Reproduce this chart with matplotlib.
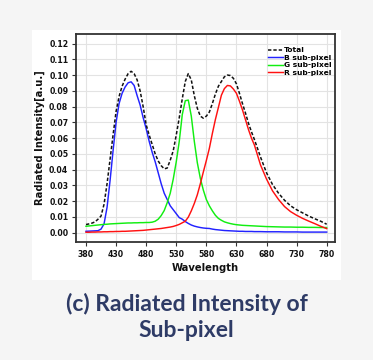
import matplotlib
matplotlib.use("Agg")
import matplotlib.pyplot as plt
from matplotlib.patches import Rectangle

# ---------------- data ----------------
wavelength = [380, 385, 390, 395, 400, 405, 410, 415, 420, 425, 430, 435, 440, 445, 450,
              455, 460, 465, 470, 475, 480, 485, 490, 495, 500, 505, 510, 515, 520, 525,
              530, 535, 540, 545, 550, 555, 560, 565, 570, 575, 580, 585, 590, 595, 600,
              605, 610, 615, 620, 625, 630, 635, 640, 645, 650, 655, 660, 670, 680, 690,
              700, 710, 720, 730, 740, 750, 760, 770, 780]

total = [0.0051, 0.0055, 0.0060, 0.0068, 0.0085, 0.0105, 0.0180, 0.0310, 0.0465, 0.0620,
         0.0770, 0.0865, 0.0930, 0.0975, 0.1010, 0.1025, 0.1010, 0.0970, 0.0900, 0.0800,
         0.0685, 0.0620, 0.0560, 0.0500, 0.0455, 0.0425, 0.0405, 0.0410, 0.0460, 0.0520,
         0.0620, 0.0730, 0.0850, 0.0960, 0.1010, 0.0970, 0.0870, 0.0790, 0.0740, 0.0727,
         0.0740, 0.0766, 0.0820, 0.0880, 0.0930, 0.0960, 0.0990, 0.1001, 0.0998, 0.0980,
         0.0945, 0.0885, 0.0820, 0.0760, 0.0695, 0.0640, 0.0590, 0.0480, 0.0380, 0.0305,
         0.0250, 0.0205, 0.0170, 0.0145, 0.0125, 0.0105, 0.0088, 0.0072, 0.0053]

b_subpixel = [0.0008, 0.0009, 0.0010, 0.0011, 0.0012, 0.0022, 0.0055, 0.0160, 0.0330, 0.0520,
              0.0700, 0.0820, 0.0885, 0.0925, 0.0952, 0.0958, 0.0935, 0.0870, 0.0810, 0.0730,
              0.0660, 0.0580, 0.0510, 0.0450, 0.0380, 0.0310, 0.0250, 0.0210, 0.0170, 0.0145,
              0.0120, 0.0095, 0.0085, 0.0070, 0.0058, 0.0048, 0.0041, 0.0036, 0.0032, 0.0029,
              0.0027, 0.0026, 0.0022, 0.0019, 0.0017, 0.0015, 0.0013, 0.0012, 0.0011, 0.0010,
              0.0009, 0.0008, 0.0008, 0.0007, 0.0007, 0.0007, 0.0006, 0.0006, 0.0005, 0.0005,
              0.0005, 0.0004, 0.0004, 0.0004, 0.0003, 0.0003, 0.0003, 0.0003, 0.0003]

g_subpixel = [0.0040, 0.0042, 0.0044, 0.0046, 0.0048, 0.0050, 0.0052, 0.0053, 0.0055, 0.0056,
              0.0057, 0.0058, 0.0059, 0.0060, 0.0061, 0.0061, 0.0062, 0.0062, 0.0063, 0.0063,
              0.0064, 0.0064, 0.0066, 0.0072, 0.0085, 0.0108, 0.0140, 0.0190, 0.0250, 0.0340,
              0.0450, 0.0580, 0.0750, 0.0838, 0.0842, 0.0740, 0.0580, 0.0444, 0.0345, 0.0270,
              0.0210, 0.0170, 0.0138, 0.0110, 0.0090, 0.0078, 0.0068, 0.0062, 0.0057, 0.0053,
              0.0050, 0.0048, 0.0046, 0.0045, 0.0044, 0.0043, 0.0042, 0.0040, 0.0038, 0.0037,
              0.0036, 0.0035, 0.0035, 0.0034, 0.0034, 0.0033, 0.0033, 0.0032, 0.0032]

r_subpixel = [0.0002, 0.0002, 0.0003, 0.0003, 0.0004, 0.0004, 0.0005, 0.0005, 0.0006, 0.0006,
              0.0007, 0.0007, 0.0008, 0.0008, 0.0009, 0.0010, 0.0011, 0.0012, 0.0013, 0.0014,
              0.0016, 0.0018, 0.0020, 0.0022, 0.0024, 0.0026, 0.0029, 0.0032, 0.0035, 0.0039,
              0.0045, 0.0052, 0.0062, 0.0072, 0.0098, 0.0138, 0.0185, 0.0240, 0.0310, 0.0385,
              0.0458, 0.0535, 0.0630, 0.0718, 0.0795, 0.0873, 0.0915, 0.0935, 0.0932, 0.0912,
              0.0885, 0.0835, 0.0780, 0.0718, 0.0655, 0.0600, 0.0555, 0.0430, 0.0340, 0.0265,
              0.0210, 0.0165, 0.0133, 0.0110, 0.0090, 0.0073, 0.0057, 0.0040, 0.0025]

xticks = [380, 430, 480, 530, 580, 630, 680, 730, 780]
yticks = [0.00, 0.01, 0.02, 0.03, 0.04, 0.05, 0.06, 0.07, 0.08, 0.09, 0.10, 0.11, 0.12]

series_labels = ["Total", "B sub-pixel", "G sub-pixel", "R sub-pixel"]
series_colors = ["#111111", "#2222ff", "#11ee11", "#ff1111"]

caption = "(c) Radiated Intensity of\nSub-pixel"

# ---------------- figure ----------------
W, H = 373, 360
fig = plt.figure(figsize=(W / 100, H / 100), dpi=100)
fig.patch.set_facecolor("#f5f5f5")

# white panel behind the chart
fig.patches.append(Rectangle((32 / W, 1 - 280 / H), (341 - 32) / W, (280 - 30) / H,
                             transform=fig.transFigure, facecolor="white",
                             edgecolor="none", zorder=-1))

ax = fig.add_axes([76 / W, 1 - 242 / H, (335 - 76) / W, (242 - 34) / H])
ax.set_zorder(2)
ax.set_facecolor("white")

ax.plot(wavelength, total, color=series_colors[0], lw=1.1, ls=(0, (2.2, 1.3)),
        label=series_labels[0], zorder=5)
ax.plot(wavelength, b_subpixel, color=series_colors[1], lw=1.05, label=series_labels[1], zorder=4)
ax.plot(wavelength, g_subpixel, color=series_colors[2], lw=1.05, label=series_labels[2], zorder=4)
ax.plot(wavelength, r_subpixel, color=series_colors[3], lw=1.05, label=series_labels[3], zorder=4)

ax.set_xlim(363.4, 793.8)
ax.set_ylim(-0.006, 0.1262)
ax.set_xticks(xticks)
ax.set_xticklabels([str(v) for v in xticks])
ax.set_yticks(yticks)
ax.set_yticklabels([f"{v:.2f}" for v in yticks])

ax.grid(True, color="#e3e3e3", lw=0.8)
ax.set_axisbelow(True)

for s in ax.spines.values():
    s.set_color("#333333")
    s.set_linewidth(1.3)

ax.tick_params(axis="both", direction="out", length=3, width=0.8, color="#333333",
               labelsize=5.6, pad=2.5)
for lbl in ax.get_xticklabels() + ax.get_yticklabels():
    lbl.set_fontweight("bold")
    lbl.set_color("#111111")

ax.set_xlabel("Wavelength", fontsize=7.2, fontweight="bold", color="#111111", labelpad=3)
ax.set_ylabel("Radiated Intensity[a.u.]", fontsize=7.2, fontweight="bold", color="#111111",
              labelpad=3)

leg = ax.legend(loc="upper right", bbox_to_anchor=(1 - 3 / 259, 1 - 13 / 208),
                frameon=False, prop={"size": 5.4, "weight": "bold"},
                handlelength=2.0, handletextpad=0.25, labelspacing=0.17,
                borderaxespad=0.0, borderpad=0.0)

fig.text(0.5, 1 - 317 / H, caption, ha="center", va="center", fontsize=16.5,
         fontweight="bold", family=["Lato", "DejaVu Sans"], color="#2e3b66",
         linespacing=1.3)

fig.savefig("out.png", dpi=100, facecolor=fig.get_facecolor())
